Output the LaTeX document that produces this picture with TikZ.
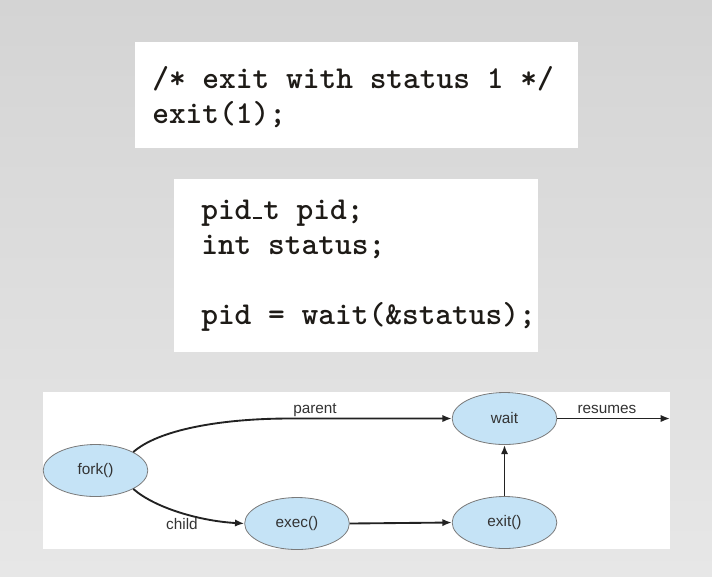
\documentclass[tikz,border=0pt]{standalone}
\usepackage{fontspec}
\newfontfamily\diagfont{Liberation Sans}
\usetikzlibrary{shapes.geometric,arrows.meta}
\definecolor{bgtop}{HTML}{D4D4D4}
\definecolor{bgbot}{HTML}{E7E7E7}
\definecolor{codeink}{HTML}{1E1B17}
\definecolor{ellfill}{HTML}{C5E3F6}
\definecolor{ellline}{HTML}{7A7A7A}
\definecolor{labink}{HTML}{333333}
\definecolor{arrink}{HTML}{222222}
\newcommand\codeus{\hbox to 0.37em{\hss\rule{0.3em}{0.05em}\hss}}
\begin{document}
\begin{tikzpicture}[x=0.75pt,y=-0.75pt,
  codeline/.style={anchor=base west,inner sep=0pt,text=codeink,font=\fontsize{23.9}{26}\selectfont\ttfamily\bfseries},
  proc/.style={ellipse,draw=ellline,line width=0.6pt,fill=ellfill,minimum width=78.5pt,minimum height=39pt,inner sep=0pt,text=labink,font=\diagfont\fontsize{11.5}{13}\selectfont},
  lab/.style={anchor=base,text=labink,font=\diagfont\fontsize{11.5}{13}\selectfont,inner sep=0pt},
  arr/.style={draw=arrink,line width=1.4pt,-{Latex[length=7pt,width=5.5pt]}}]
\useasboundingbox (0,0) rectangle (712,576);
\fill[top color=bgtop,bottom color=bgbot] (0,0) rectangle (712,576);
% code boxes
\fill[white] (135,42) rectangle (578,148);
\fill[white] (174,179) rectangle (538,352);
\node[codeline] (c1) at (152,88) {/* exit with status 1 */};
\node[codeline] (c2) at (152,123) {exit(1);};
\node[codeline] (d1) at (201,219) {pid\codeus t pid;};
\node[codeline] (d2) at (201,254) {int status;};
\node[codeline] (d3) at (201,324) {pid = wait(\&status);};
% diagram panel
\fill[white] (43,392) rectangle (670,549);
\node[proc] (fork) at (95.5,470.5) {fork()};
\node[proc] (exec) at (297,523.5) {exec()};
\node[proc] (exit) at (504.5,522.5) {exit()};
\node[proc] (wait) at (504.5,418.5) {wait};
\coordinate (resend) at (670,418.5);
\draw[arr] (wait.east) -- (resend);
\draw[arr] (exit.north) -- (wait.south);
\draw[arr] (exec.east) -- (exit.west);
\draw[arr] (fork.26) .. controls (158,430) and (220,418.5) .. (290,418.5) -- (wait.west);
\draw[arr] (fork.-26) .. controls (155,508) and (200,521) .. (exec.west);
\node[lab] (lparent) at (315,413) {parent};
\node[lab] (lresumes) at (607,413) {resumes};
\node[lab] (lchild) at (182,529) {child};
\end{tikzpicture}
\end{document}
